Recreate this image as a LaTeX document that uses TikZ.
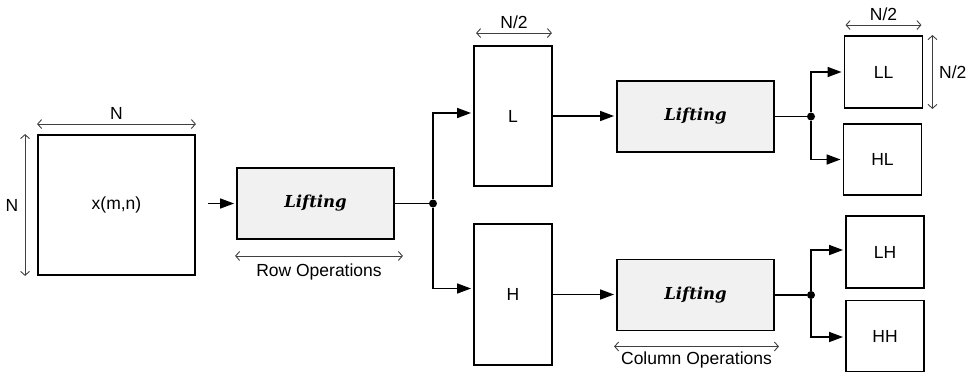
\documentclass[tikz,border=0pt]{standalone}
\usepackage{fontspec}
\setmainfont{Liberation Sans}
\newfontfamily\liftfont{DejaVu Serif}
\usetikzlibrary{arrows.meta, positioning}
\definecolor{liftgray}{RGB}{240,241,240}
\tikzset{
  blk/.style={rectangle, draw, line width=1.9pt, inner sep=0pt, font=\fontsize{17.5}{20}\selectfont},
  lift/.style={blk, fill=liftgray, minimum width=157pt, minimum height=71pt, font=\liftfont\bfseries\itshape\fontsize{16.5}{19}\selectfont},
  sub/.style={blk, minimum width=78pt, minimum height=71pt},
  junc/.style={circle, fill, inner sep=0pt, minimum size=8pt},
  line/.style={line width=1.6pt, -{Triangle[length=14pt,width=10pt]}, shorten >=2pt},
  wire/.style={line width=1.6pt},
  dim/.style={line width=0.9pt, draw=black!75, {Straight Barb[length=4pt,width=9pt]}-{Straight Barb[length=4pt,width=9pt]}},
  lbl/.style={font=\fontsize{17.5}{20}\selectfont}
}
\begin{document}
\begin{tikzpicture}[x=1pt, y=-1pt]
    \useasboundingbox (0,0) rectangle (970,373);
    \node[blk, minimum width=157pt, minimum height=140pt] (img) at (116.5,205) {x(m,n)};
    \node[lift] (r) at (315.5,203.5) {Lifting};
    \node[blk, minimum width=78pt, minimum height=140pt] (l) at (513,116) {L};
    \node[blk, minimum width=78pt, minimum height=141pt] (h) at (513,294.5) {H};
    \node[lift] (cl) at (695.5,116.5) {Lifting};
    \node[lift] (ch) at (695.5,295) {Lifting};
    \node[sub, minimum height=72pt] (ll) at (883.5,72) {LL};
    \node[sub] (hl) at (882.5,159.5) {HL};
    \node[sub, minimum height=72pt] (lh) at (885,252) {LH};
    \node[sub] (hh) at (885,336) {HH};
    \node[junc] (d1) at (433,203.5) {};
    \node[junc] (d2) at (811,116.5) {};
    \node[junc] (d3) at (811,295) {};
    \coordinate (in) at (208,203.5);
    % signal path
    \draw[line] (in) -- (r.west);
    \draw[wire] (r.east) -- (d1);
    \draw[line] (d1) |- ([yshift=3pt]l.west);
    \draw[line] (d1) |- ([yshift=6pt]h.west);
    \draw[line] (l.east) -- (l.east -| cl.west);
    \draw[line] (h.east) -- (h.east -| ch.west);
    \draw[wire] (cl.east) -- (d2);
    \draw[wire] (ch.east) -- (d3);
    \draw[line] (d2) |- (ll.west);
    \draw[line] (d2) |- (hl.west);
    \draw[line] (d3) |- ([yshift=2pt]lh.west);
    \draw[line] (d3) |- ([yshift=-1pt]hh.west);
    % dimensions
    \draw[dim] ([yshift=10pt]img.north west) -- node[lbl, above=1pt]{N} ([yshift=10pt]img.north east);
    \draw[dim] ([xshift=-12pt]img.north west) -- node[lbl, left=3pt]{N} ([xshift=-12pt]img.south west);
    \draw[dim] ([xshift=-1pt,yshift=-16pt]r.south west) -- node[lbl, below=4pt]{Row Operations} ([xshift=8pt,yshift=-16pt]r.south east);
    \draw[dim] ([xshift=3pt,yshift=12pt]l.north west) -- node[lbl, above=1pt]{N/2} ([xshift=-1pt,yshift=12pt]l.north east);
    \draw[dim] ([xshift=2pt,yshift=10pt]ll.north west) -- node[lbl, above=1pt]{N/2} ([xshift=-2pt,yshift=10pt]ll.north east);
    \draw[dim] ([xshift=9pt]ll.north east) -- node[lbl, right=3pt]{N/2} ([xshift=9pt]ll.south east);
    \draw[dim] ([xshift=-2pt,yshift=-15pt]ch.south west) -- node[lbl, below=2pt]{Column Operations} ([xshift=4pt,yshift=-15pt]ch.south east);
\end{tikzpicture}
\end{document}
